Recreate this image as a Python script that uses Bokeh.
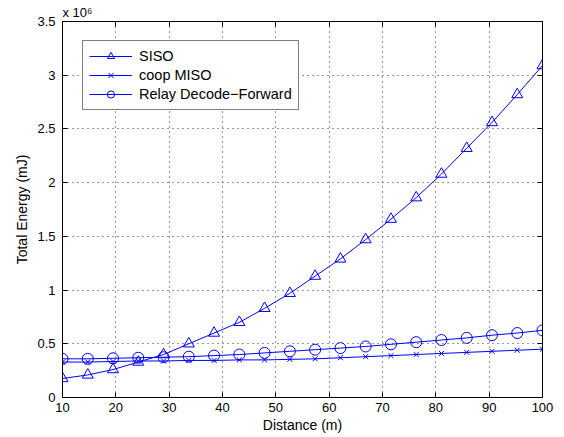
from bokeh.plotting import figure
from bokeh.models import Range1d, LinearAxis, FixedTicker, Legend, LegendItem, CustomJSTickFormatter
from bokeh.embed import file_html
from bokeh.resources import INLINE

distance = [10.0, 14.74, 19.47, 24.21, 28.95, 33.68, 38.42, 43.16, 47.89, 52.63,
            57.37, 62.11, 66.84, 71.58, 76.32, 81.05, 85.79, 90.53, 95.26, 100.0]
siso = [0.177, 0.21, 0.26, 0.33, 0.40, 0.50, 0.60, 0.70, 0.83, 0.97,
        1.13, 1.29, 1.47, 1.66, 1.86, 2.08, 2.32, 2.56, 2.82, 3.09]
coop_miso = [0.33, 0.33, 0.335, 0.34, 0.34, 0.345, 0.345, 0.35, 0.35, 0.355,
             0.36, 0.37, 0.38, 0.39, 0.40, 0.41, 0.42, 0.43, 0.44, 0.45]
relay_df = [0.36, 0.36, 0.365, 0.37, 0.375, 0.38, 0.39, 0.40, 0.415, 0.43,
            0.445, 0.46, 0.475, 0.495, 0.515, 0.535, 0.555, 0.58, 0.60, 0.625]
x_ticks = [10, 20, 30, 40, 50, 60, 70, 80, 90, 100]
y_ticks = [0, 0.5, 1, 1.5, 2, 2.5, 3, 3.5]
series_names = ["SISO", "coop MISO", "Relay Decode\u2212Forward"]
scale_note = "x 10\u2076"

FONT = "Liberation Sans"
BLUE = "#0000ff"

p = figure(frame_width=480, frame_height=376, output_backend="svg", toolbar_location=None,
           x_range=Range1d(10, 100), y_range=Range1d(0, 3.5),
           min_border_left=62, min_border_top=0, min_border_right=20, min_border_bottom=38)
p.outline_line_color = "black"
p.outline_line_width = 1
p.background_fill_color = "white"
p.border_fill_color = "white"

p.title.text = scale_note
p.title.align = "left"
p.title.text_font = FONT
p.title.text_font_size = "13px"
p.title.text_font_style = "normal"
p.title.text_color = "black"
p.title.standoff = 4
p.title.offset = 0

for ax in (p.xaxis[0], p.yaxis[0]):
    ax.major_tick_in = 5
    ax.major_tick_out = 0
    ax.minor_tick_line_color = None
    ax.axis_line_color = "black"
    ax.major_label_text_font = FONT
    ax.major_label_text_font_size = "13px"
    ax.major_label_text_color = "black"
    ax.axis_label_text_font = FONT
    ax.axis_label_text_font_size = "14px"
    ax.axis_label_text_font_style = "normal"
    ax.axis_label_text_color = "black"

p.xaxis[0].ticker = FixedTicker(ticks=x_ticks)
p.yaxis[0].ticker = FixedTicker(ticks=y_ticks)
p.yaxis[0].formatter = CustomJSTickFormatter(code="return String(tick);")
p.xaxis[0].axis_label = "Distance (m)"
p.yaxis[0].axis_label = "Total Energy (mJ)"
p.xaxis[0].major_label_standoff = 5
p.xaxis[0].axis_label_standoff = 2
p.yaxis[0].major_label_standoff = 7
p.yaxis[0].axis_label_standoff = 4

top = LinearAxis(ticker=FixedTicker(ticks=x_ticks), major_label_text_color=None,
                 major_label_text_font_size="1px", major_label_standoff=0,
                 major_tick_in=5, major_tick_out=0, minor_tick_line_color=None,
                 axis_line_color="black")
right = LinearAxis(ticker=FixedTicker(ticks=y_ticks), major_label_text_color=None,
                   major_tick_in=5, major_tick_out=0, minor_tick_line_color=None,
                   axis_line_color="black")
p.add_layout(top, "above")
p.add_layout(right, "right")

for g in (p.xgrid[0], p.ygrid[0]):
    g.grid_line_color = "#333333"
    g.grid_line_dash = "1 4"
    g.grid_line_width = 1
p.xgrid[0].ticker = FixedTicker(ticks=x_ticks)
p.ygrid[0].ticker = FixedTicker(ticks=y_ticks)

r1l = p.line(distance, siso, line_color=BLUE, line_width=1)
r1m = p.scatter(distance, siso, marker="triangle", size=11, line_color=BLUE,
                fill_color=None, line_width=1)
r2l = p.line(distance, coop_miso, line_color=BLUE, line_width=1)
r2m = p.scatter(distance, coop_miso, marker="x", size=7, line_color=BLUE, line_width=1)
r3l = p.line(distance, relay_df, line_color=BLUE, line_width=1)
r3m = p.scatter(distance, relay_df, marker="circle", size=11, line_color=BLUE,
                fill_color=None, line_width=1)

legend = Legend(items=[LegendItem(label=series_names[0], renderers=[r1l, r1m]),
                       LegendItem(label=series_names[1], renderers=[r2l, r2m]),
                       LegendItem(label=series_names[2], renderers=[r3l, r3m])],
                location=(20, 287), orientation="vertical",
                label_text_font=FONT, label_text_font_size="14.5px",
                label_text_color="black",
                border_line_color="black", border_line_width=1,
                background_fill_color="white", background_fill_alpha=1.0,
                glyph_width=43, glyph_height=18, label_height=18, label_standoff=7,
                spacing=1, padding=6, margin=0)
p.add_layout(legend, "center")

open("out.html", "w").write(file_html(p, INLINE))
